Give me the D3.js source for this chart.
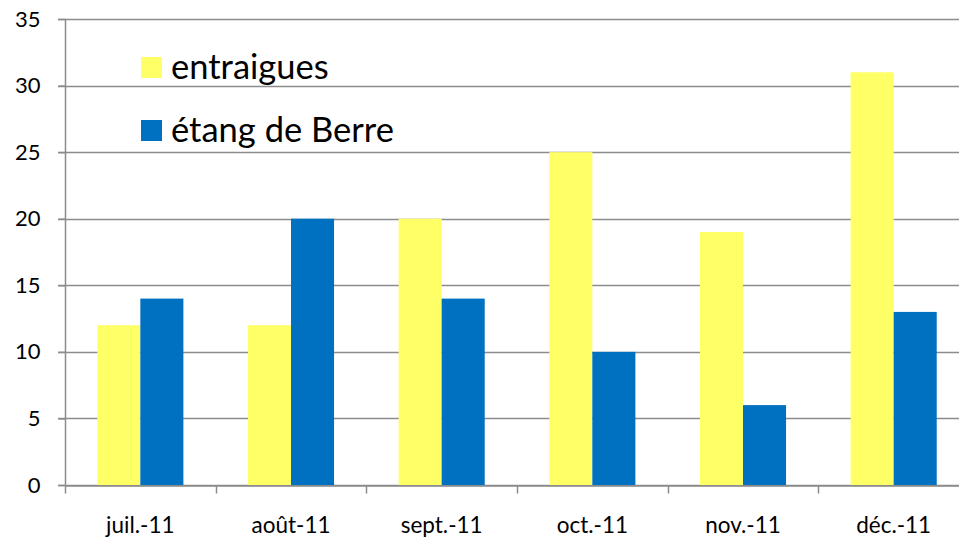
<!DOCTYPE html>
<html>
<head>
<meta charset="utf-8">
<script src="https://cdn.jsdelivr.net/npm/d3@7"></script>
<style>
  html, body { margin: 0; padding: 0; background: #fff; overflow: hidden; }
  svg { display: block; font-family: Lato, "Open Sans", sans-serif; }
</style>
</head>
<body>
<svg id="chart" width="959" height="540"></svg>
<script>
const months = ['juil.-11', 'août-11', 'sept.-11', 'oct.-11', 'nov.-11', 'déc.-11'];
const seriesNames = ['entraigues', 'étang de Berre'];
const entraigues = [12, 12, 20, 25, 19, 31];
const etangDeBerre = [14, 20, 14, 10, 6, 13];
const yTicks = [0, 5, 10, 15, 20, 25, 30, 35];
const colors = ['#ffff66', '#0070c0'];

const svg = d3.select('#chart');
const margin = { top: 19, left: 65, bottom: 55 };
const plotRight = 969;
const height = 540 - margin.top - margin.bottom;

const x0 = d3.scaleBand().domain(months).range([margin.left, plotRight]).paddingInner(0).paddingOuter(0);
const x1 = d3.scaleBand().domain(seriesNames).range([0, x0.bandwidth()]).paddingInner(0).paddingOuter(0.75);
const y = d3.scaleLinear().domain([0, 35]).range([margin.top + height, margin.top]);

// gridlines
svg.append('g')
    .selectAll('line')
    .data(yTicks)
    .join('line')
    .attr('x1', margin.left - 7)
    .attr('x2', plotRight)
    .attr('y1', d => Math.round(y(d)) + 0.5)
    .attr('y2', d => Math.round(y(d)) + 0.5)
    .attr('stroke', '#8c8c8c')
    .attr('stroke-width', 1.5);

// bars
const data = months.map((m, i) => ({ month: m, values: [entraigues[i], etangDeBerre[i]] }));
svg.append('g')
    .selectAll('g')
    .data(data)
    .join('g')
    .attr('transform', d => `translate(${x0(d.month)},0)`)
    .selectAll('rect')
    .data(d => d.values.map((v, k) => ({ name: seriesNames[k], value: v, k })))
    .join('rect')
    .attr('x', d => x1(d.name))
    .attr('width', x1.bandwidth())
    .attr('y', d => y(d.value))
    .attr('height', d => y(0) - y(d.value))
    .attr('fill', d => colors[d.k]);

// y axis
const yAxis = svg.append('g')
    .attr('transform', `translate(${margin.left + 0.5},0)`)
    .call(d3.axisLeft(y).tickValues(yTicks).tickSize(7).tickPadding(18));
yAxis.selectAll('path, line').attr('stroke', '#8c8c8c').attr('stroke-width', 1.5);
yAxis.select('.domain').attr('d', `M0,${y(35)}V${y(0)}`);
yAxis.selectAll('text').attr('font-size', 22).attr('fill', '#000').attr('font-family', 'Lato, sans-serif');

// x axis
const xAxis = svg.append('g')
    .attr('transform', `translate(0,${Math.round(y(0)) + 0.5})`)
    .call(d3.axisBottom(x0).tickSize(0).tickPadding(32));
xAxis.select('.domain').attr('stroke', '#8c8c8c').attr('stroke-width', 1.5);
xAxis.selectAll('text').attr('font-size', 22.5).attr('fill', '#000').attr('font-family', 'Lato, sans-serif');
xAxis.selectAll('.bound')
    .data(months)
    .join('line')
    .attr('x1', d => Math.round(x0(d)) + 0.5)
    .attr('x2', d => Math.round(x0(d)) + 0.5)
    .attr('y1', 0)
    .attr('y2', 8)
    .attr('stroke', '#8c8c8c')
    .attr('stroke-width', 1.5);

// legend
const legend = svg.append('g')
    .selectAll('g')
    .data(seriesNames)
    .join('g')
    .attr('transform', (d, i) => `translate(141,${57 + i * 63})`);
legend.append('rect')
    .attr('width', 21)
    .attr('height', 21)
    .attr('fill', (d, i) => colors[i]);
legend.append('text')
    .attr('x', 30)
    .attr('y', 22)
    .attr('font-size', 34.5)
    .attr('fill', '#000')
    .text(d => d);
</script>
</body>
</html>
